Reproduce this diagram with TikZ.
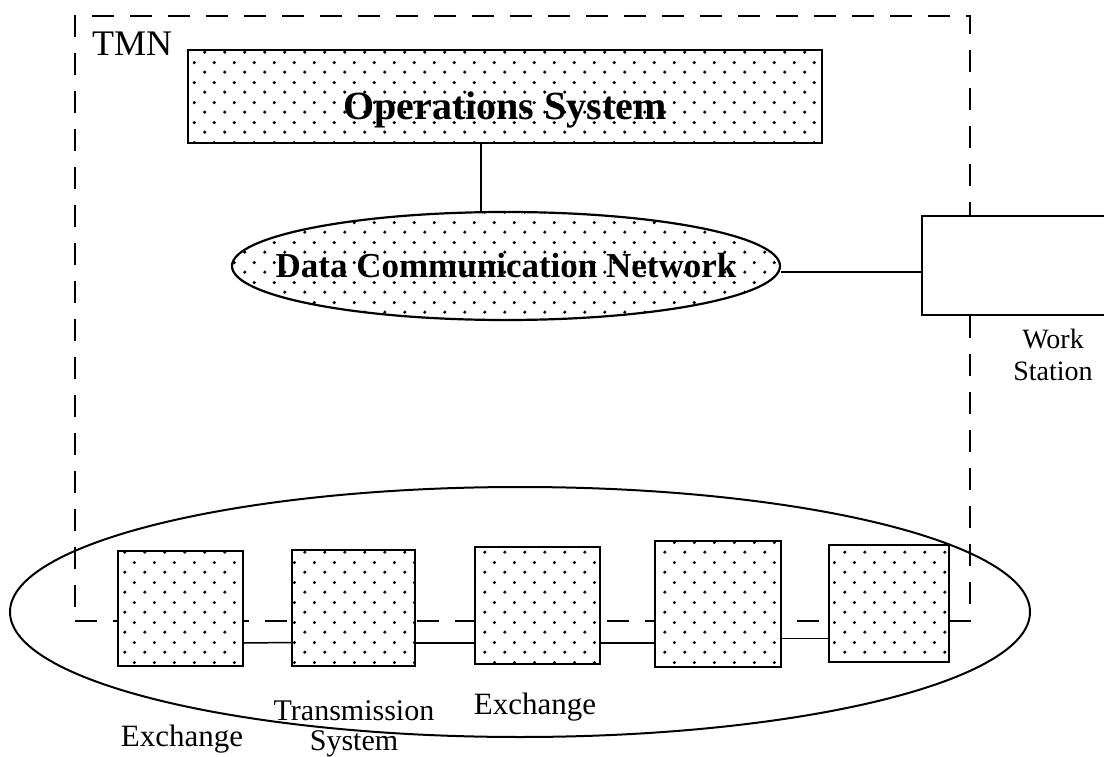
\documentclass[tikz,border=0pt]{standalone}
\usepackage{fontspec}
\setmainfont{Liberation Serif}
\usetikzlibrary{shapes.geometric,patterns,calc}

% staggered dot screen used to shade the TMN building blocks
\pgfdeclarepatternformonly{stagdots}{\pgfqpoint{0pt}{0pt}}{\pgfqpoint{20pt}{20pt}}{\pgfqpoint{20pt}{20pt}}{%
  \pgfpathcircle{\pgfqpoint{5pt}{5pt}}{1.8pt}%
  \pgfpathcircle{\pgfqpoint{15pt}{15pt}}{1.8pt}%
  \pgfusepath{fill}}

\begin{document}
\begin{tikzpicture}[x=1pt,y=-1pt,
  tmnedge/.style={line width=2.4pt,dash pattern=on 22pt off 16pt},
  dotted block/.style={draw,line width=2.4pt,preaction={fill=white},pattern=stagdots,inner sep=0pt},
  netcloud/.style={draw,ellipse,line width=2pt,inner sep=0pt},
  conn/.style={line width=1.5pt},
  title/.style={font=\fontsize{40}{44}\selectfont\bfseries,inner sep=0pt},
  caption/.style={font=\fontsize{31}{31}\selectfont,inner sep=0pt,anchor=base},
  mainlabel/.style={font=\fontsize{36}{40}\selectfont,inner sep=0pt}]

\clip (0,0) rectangle (1104,757);
\fill[white] (0,0) rectangle (1104,757);

% TMN boundary
\node[tmnedge,draw,minimum width=895pt,minimum height=605pt,inner sep=0pt] (tmn) at (522.5,318.5) {};
\node[mainlabel,anchor=base west] (tmnlabel) at (92,56) {TMN};

% managed network
\node[netcloud,minimum width=1020pt,minimum height=250pt] (net) at (520,612) {};

% management layer
\node[dotted block,minimum width=634pt,minimum height=93pt] (os) at (505,96.5) {};
\node[title,anchor=base] (oslabel) at (505,120) {Operations System};
\node[netcloud,line width=2.2pt,preaction={fill=white},pattern=stagdots,minimum width=548pt,minimum height=108pt] (dcn) at (506,266) {};
\node[title,font=\fontsize{35}{40}\selectfont\bfseries] (dcnlabel) at (dcn.center) {Data Communication Network};

% work station outside the TMN
\node[draw,line width=2.2pt,fill=white,minimum width=250pt,minimum height=99pt,inner sep=0pt] (ws) at (1047,265.5) {};
\node[caption,font=\fontsize{28}{28}\selectfont] (wslabel1) at (1053,348) {Work};
\node[caption,font=\fontsize{28}{28}\selectfont] (wslabel2) at (1053,380) {Station};

% network elements
\node[dotted block,minimum width=125pt,minimum height=115pt] (b1) at (180.5,608.5) {};
\node[dotted block,minimum width=123pt,minimum height=116pt] (b2) at (353.5,608) {};
\node[dotted block,minimum width=125pt,minimum height=117pt] (b3) at (537.5,605.5) {};
\node[dotted block,minimum width=126pt,minimum height=126pt] (b4) at (718,604) {};
\node[dotted block,minimum width=120pt,minimum height=117pt] (b5) at (889,603.5) {};

\node[caption] (l1) at (182,746) {Exchange};
\node[caption,font=\fontsize{30}{30}\selectfont] (l2a) at (354,720) {Transmission};
\node[caption,font=\fontsize{30}{30}\selectfont] (l2b) at (354,750) {System};
\node[caption] (l3) at (535,714) {Exchange};

% connections
\draw[conn] ([xshift=-24pt]os.south) -- ([xshift=-24pt]os.south |- dcn.north);
\draw[conn] ([yshift=-6pt]dcn.east) -- ([yshift=-6pt]dcn.east -| ws.west);
\draw[conn] ([yshift=-34.5pt]b1.east) -- ([yshift=-34.5pt]b2.west);
\draw[conn] ([yshift=-35pt]b2.east) -- ([yshift=-35pt]b2.east -| b3.west);
\draw[conn] ([yshift=-37.5pt]b3.east) -- ([yshift=-37.5pt]b3.east -| b4.west);
\draw[conn] ([yshift=-34.5pt]b4.east) -- ([yshift=-34.5pt]b4.east -| b5.west);
\end{tikzpicture}
\end{document}
